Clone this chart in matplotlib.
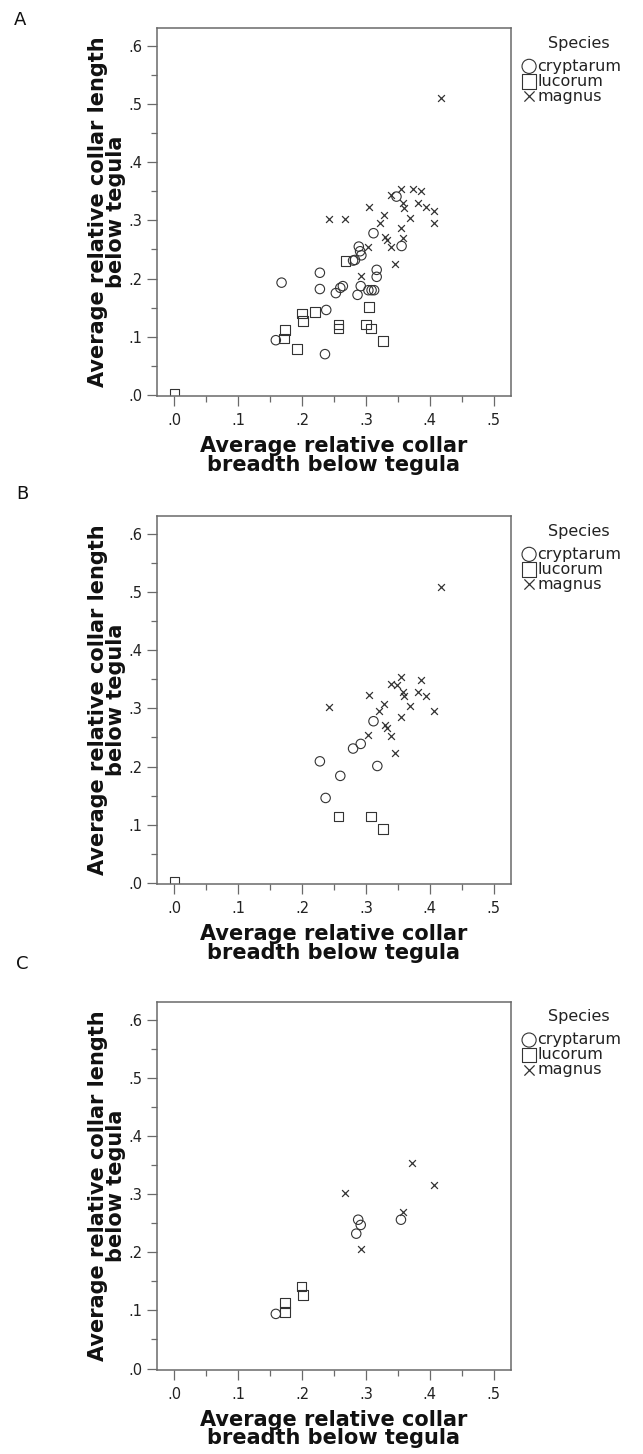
import matplotlib
matplotlib.use("Agg")
import matplotlib.pyplot as plt
from matplotlib.ticker import FixedLocator, FuncFormatter

plt.rcParams['font.family'] = ['DejaVu Sans']

# ---------------- data ----------------
species = ["cryptarum", "lucorum", "magnus"]

# Panel A
A_cryptarum_x = [0.312, 0.289, 0.291, 0.283, 0.280, 0.293, 0.356, 0.228, 0.317, 0.317,
                 0.168, 0.228, 0.253, 0.260, 0.264, 0.292, 0.287, 0.304, 0.309, 0.313,
                 0.238, 0.159, 0.236, 0.348]
A_cryptarum_y = [0.278, 0.255, 0.247, 0.232, 0.231, 0.240, 0.256, 0.210, 0.215, 0.203,
                 0.193, 0.182, 0.175, 0.184, 0.187, 0.187, 0.172, 0.180, 0.180, 0.180,
                 0.146, 0.094, 0.070, 0.341]
A_lucorum_x = [0.268, 0.200, 0.202, 0.220, 0.173, 0.172, 0.192, 0.257, 0.257, 0.305,
               0.300, 0.308, 0.327, 0.000]
A_lucorum_y = [0.230, 0.140, 0.127, 0.142, 0.112, 0.097, 0.079, 0.121, 0.114, 0.151,
               0.121, 0.114, 0.093, 0.002]
A_magnus_x = [0.418, 0.355, 0.374, 0.387, 0.339, 0.359, 0.360, 0.381, 0.394, 0.407,
              0.305, 0.329, 0.369, 0.242, 0.268, 0.322, 0.407, 0.355, 0.330, 0.333,
              0.359, 0.340, 0.303, 0.345, 0.292]
A_magnus_y = [0.510, 0.354, 0.354, 0.351, 0.343, 0.330, 0.322, 0.330, 0.323, 0.317,
              0.323, 0.309, 0.305, 0.302, 0.302, 0.296, 0.295, 0.287, 0.272, 0.267,
              0.270, 0.254, 0.255, 0.225, 0.205]

# Panel B
B_cryptarum_x = [0.312, 0.292, 0.280, 0.228, 0.318, 0.260, 0.237]
B_cryptarum_y = [0.278, 0.239, 0.231, 0.209, 0.201, 0.184, 0.146]
B_lucorum_x = [0.257, 0.308, 0.327, 0.000]
B_lucorum_y = [0.114, 0.114, 0.093, 0.002]
B_magnus_x = [0.418, 0.355, 0.387, 0.339, 0.349, 0.359, 0.360, 0.381, 0.394, 0.305,
              0.329, 0.369, 0.242, 0.321, 0.407, 0.355, 0.330, 0.333, 0.303, 0.340,
              0.345]
B_magnus_y = [0.509, 0.354, 0.349, 0.342, 0.340, 0.329, 0.322, 0.329, 0.322, 0.323,
              0.308, 0.305, 0.302, 0.295, 0.295, 0.285, 0.272, 0.266, 0.254, 0.252,
              0.223]

# Panel C
C_cryptarum_x = [0.288, 0.292, 0.285, 0.355, 0.159]
C_cryptarum_y = [0.256, 0.247, 0.232, 0.256, 0.094]
C_lucorum_x = [0.199, 0.202, 0.173, 0.173]
C_lucorum_y = [0.141, 0.127, 0.113, 0.097]
C_magnus_x = [0.373, 0.406, 0.268, 0.359, 0.292]
C_magnus_y = [0.353, 0.316, 0.302, 0.270, 0.205]

panel_letters = ["A", "B", "C"]
xlabel = "Average relative collar\nbreadth below tegula"
ylabel = "Average relative collar length\nbelow tegula"
tick_values = [0.0, 0.1, 0.2, 0.3, 0.4, 0.5]
ytick_values = [0.0, 0.1, 0.2, 0.3, 0.4, 0.5, 0.6]

panels = [
    (A_cryptarum_x, A_cryptarum_y, A_lucorum_x, A_lucorum_y, A_magnus_x, A_magnus_y),
    (B_cryptarum_x, B_cryptarum_y, B_lucorum_x, B_lucorum_y, B_magnus_x, B_magnus_y),
    (C_cryptarum_x, C_cryptarum_y, C_lucorum_x, C_lucorum_y, C_magnus_x, C_magnus_y),
]

# ---------------- layout ----------------
W, H = 643, 1454
fig = plt.figure(figsize=(W / 100, H / 100), dpi=100)

ax_left_px, ax_w_px, ax_h_px = 156.7, 354.3, 368.0
ax_tops_px = [28.0, 516.0, 1001.7]
letter_pos_px = [(20, 20), (22, 494), (22, 964)]

mk_col = "#333333"
frame_col = "#6a6a6a"

fmt = FuncFormatter(lambda v, p: "." + str(int(round(v * 10))))

for i, (cx, cy, lx, ly, mx, my) in enumerate(panels):
    top = ax_tops_px[i]
    ax = fig.add_axes([ax_left_px / W, 1 - (top + ax_h_px) / H, ax_w_px / W, ax_h_px / H])
    s1 = ax.scatter(cx, cy, s=46, marker="o", facecolors="none", edgecolors=mk_col,
                    linewidths=0.8, label=species[0])
    s2 = ax.scatter(lx, ly, s=48, marker="s", facecolors="none", edgecolors=mk_col,
                    linewidths=0.8, label=species[1])
    s3 = ax.scatter(mx, my, s=24, marker="x", c=mk_col, linewidths=0.9, label=species[2])

    ax.set_xlim(-0.0276, 0.5274)
    ax.set_ylim(-0.002, 0.631)
    ax.xaxis.set_major_locator(FixedLocator(tick_values))
    ax.xaxis.set_minor_locator(FixedLocator([v + 0.05 for v in tick_values]))
    ax.yaxis.set_major_locator(FixedLocator(ytick_values))
    ax.yaxis.set_minor_locator(FixedLocator([v + 0.05 for v in ytick_values[:-1]]))
    ax.xaxis.set_major_formatter(fmt)
    ax.yaxis.set_major_formatter(fmt)
    ax.tick_params(which="major", direction="out", length=7.2, width=0.9, color=frame_col,
                   labelsize=10.5, labelcolor="#222222")
    ax.tick_params(axis="x", which="major", pad=5.0)
    ax.tick_params(axis="y", which="major", pad=3.0)
    ax.tick_params(which="minor", direction="out", length=4.3, width=0.9, color=frame_col)
    for sp in ax.spines.values():
        sp.set_color(frame_col)
        sp.set_linewidth(1.1)

    ax.set_xlabel(xlabel, fontsize=15, fontweight="bold", labelpad=6, linespacing=0.9,
                  color="#111111")
    ax.set_ylabel(ylabel, fontsize=15, fontweight="bold", labelpad=2, linespacing=0.88,
                  color="#111111")

    ax.text(1.192, 0.959, "Species", transform=ax.transAxes, ha="center", va="center",
            fontsize=11.5, color="#222222")
    leg = ax.legend(handles=[s1, s2, s3], loc="upper left", bbox_to_anchor=(1.033, 0.917),
                    frameon=False, fontsize=11.5, borderpad=0, borderaxespad=0,
                    handlelength=0.8, handletextpad=0.12, labelspacing=0.0,
                    markerscale=1.5, scatterpoints=1)
    for t in leg.get_texts():
        t.set_color("#222222")

    lx_, ly_ = letter_pos_px[i]
    fig.text(lx_ / W, 1 - ly_ / H, panel_letters[i], fontsize=13, ha="center", va="center",
             color="#111111")

fig.savefig("out.png", dpi=100)
